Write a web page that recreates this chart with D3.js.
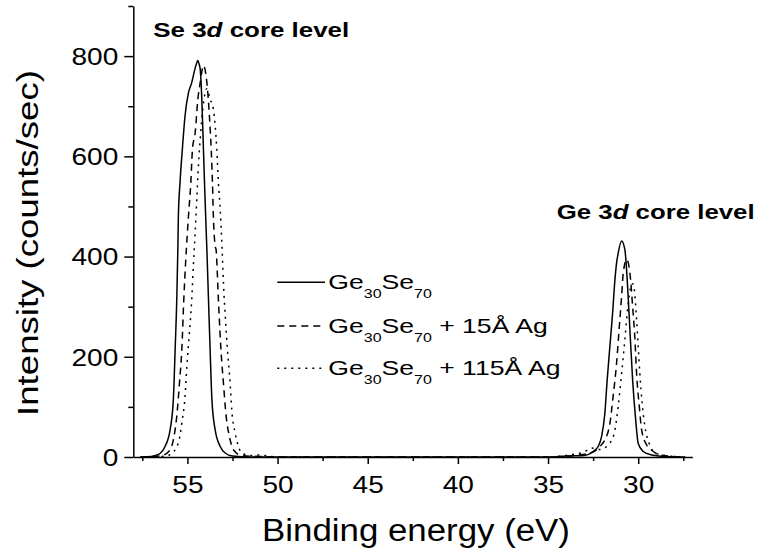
<!DOCTYPE html>
<html><head><meta charset="utf-8">
<script src="https://cdn.jsdelivr.net/npm/d3@7"></script>
<style>body{margin:0;background:#fff} svg{display:block} text{white-space:pre}</style>
</head><body><svg id="c" width="764" height="558"></svg>
<script>
// ---- data ----
const xTicks = [55, 50, 45, 40, 35, 30];
const xMinorTicks = [57.5, 52.5, 47.5, 42.5, 37.5, 32.5, 27.5];
const yTicks = [0, 200, 400, 600, 800];
const yMinorTicks = [100, 300, 500, 700, 900];
const legendSuffix = ["", " + 15Å Ag", " + 115Å Ag"];

// Ge30Se70 (solid)
const pureE = [57.6, 57.0, 56.79, 56.52, 56.24, 55.96, 55.78, 55.68, 55.59, 55.53, 55.50, 55.41, 55.28, 55.13, 54.94, 54.76, 54.67, 54.53, 54.42, 54.35, 54.29, 54.20, 54.11, 54.02, 53.92, 53.83, 53.74, 53.64, 53.46, 53.18, 52.91, 52.5, 51.5, 45, 40, 35, 34, 33, 32.5, 32.22, 32.03, 31.85, 31.72, 31.57, 31.42, 31.29, 31.2, 31.11, 30.92, 30.74, 30.61, 30.46, 30.31, 30.14, 30.0, 29.72, 29.35, 28.5, 27.4];
const pureI = [0, 1, 3, 7, 21, 54, 114, 214, 314, 414, 481, 547, 614, 681, 727, 747, 761, 781, 791, 784, 774, 714, 614, 514, 414, 314, 214, 114, 54, 21, 8, 2, 0, 0, 0, 0, 2, 3, 11, 21, 41, 87, 154, 221, 287, 354, 387, 407, 431, 414, 354, 254, 154, 74, 27, 11, 5, 1, 0];

// Ge30Se70 + 15Å Ag (dashed)
const ag15E = [57.6, 56.5, 55.96, 55.78, 55.59, 55.44, 55.31, 55.2, 55.09, 54.94, 54.81, 54.72, 54.57, 54.42, 54.29, 54.11, 53.92, 53.78, 53.68, 53.61, 53.56, 53.46, 53.41, 53.28, 53.14, 53.0, 52.85, 52.67, 52.44, 52.0, 51.0, 50, 45, 40, 35, 33.5, 32.5, 32.13, 31.85, 31.57, 31.39, 31.2, 31.06, 30.92, 30.83, 30.64, 30.46, 30.31, 30.18, 30.09, 29.94, 29.81, 29.53, 29.26, 28.8, 28.0, 27.4];
const ag15I = [0, 2, 14, 34, 81, 148, 214, 314, 394, 481, 547, 614, 647, 714, 747, 781, 747, 681, 614, 547, 481, 421, 414, 314, 214, 147, 81, 41, 14, 3, 1, 0, 0, 0, 0, 3, 10, 21, 34, 67, 121, 187, 254, 321, 367, 394, 367, 301, 234, 167, 101, 54, 24, 14, 4, 1, 0];

// Ge30Se70 + 115Å Ag (dotted)
const ag115E = [57.6, 56.5, 56.0, 55.5, 55.31, 55.13, 55.03, 54.89, 54.76, 54.67, 54.57, 54.48, 54.39, 54.29, 54.13, 53.92, 53.74, 53.56, 53.46, 53.37, 53.28, 53.18, 53.09, 53.0, 52.9, 52.78, 52.63, 52.54, 52.35, 52.17, 51.9, 51.5, 51.0, 50.5, 50, 45, 40, 35, 34, 33.5, 33, 32.59, 32.13, 31.57, 31.29, 31.11, 30.92, 30.74, 30.61, 30.5, 30.37, 30.27, 30.18, 30.09, 30.0, 29.91, 29.78, 29.63, 29.39, 29.07, 28.5, 27.4];
const ag115I = [0, 1, 4, 28, 68, 121, 181, 247, 314, 381, 448, 514, 581, 634, 700, 735, 714, 694, 661, 614, 547, 494, 428, 347, 281, 214, 147, 94, 48, 21, 6, 3, 4, 2, 0, 0, 0, 0, 3, 6, 10, 18, 15, 28, 54, 101, 167, 234, 288, 321, 345, 345, 321, 274, 221, 167, 107, 61, 27, 8, 3, 0];

// ---- drawing ----
const FONT = "Arial, 'Liberation Sans', sans-serif";
const svg = d3.select("#c");
const x = d3.scaleLinear().domain([58, 27]).range([133.3, 692.3]);
const y = d3.scaleLinear().domain([0, 900]).range([457, 6]);

const series = [
  {E: pureE, I: pureI, dash: null},
  {E: ag15E, I: ag15I, dash: "7,5"},
  {E: ag115E, I: ag115I, dash: "2,5"}
];
const line = d3.line().x(d => x(d[0])).y(d => y(d[1])).curve(d3.curveMonotoneX);
series.forEach(s => {
  svg.append("path").datum(d3.zip(s.E, s.I))
    .attr("d", line).attr("fill", "none").attr("stroke", "#000")
    .attr("stroke-width", 1.5).attr("stroke-dasharray", s.dash);
});

// axes
function styleAxis(g) {
  g.attr("font-family", FONT);
  g.selectAll("path,line").attr("stroke", "#000").attr("stroke-width", 1.5);
}
const gxMinor = svg.append("g").attr("transform", "translate(0,457)")
  .call(d3.axisBottom(x).tickValues(xMinorTicks).tickSize(4).tickSizeOuter(0).tickFormat(""));
gxMinor.select(".domain").remove();
styleAxis(gxMinor);
const gyMinor = svg.append("g").attr("transform", "translate(133.3,0)")
  .call(d3.axisLeft(y).tickValues(yMinorTicks).tickSize(5).tickSizeOuter(0).tickFormat(""));
gyMinor.select(".domain").remove();
styleAxis(gyMinor);

const gx = svg.append("g").attr("transform", "translate(0,457)")
  .call(d3.axisBottom(x).tickValues(xTicks).tickSize(7).tickSizeOuter(0).tickFormat(d3.format("d")));
styleAxis(gx);
gx.selectAll("text").attr("font-size", 23).attr("fill", "#000")
  .attr("y", 36.5).attr("dy", null).attr("transform", "scale(1.22,1)");

const gy = svg.append("g").attr("transform", "translate(133.3,0)")
  .call(d3.axisLeft(y).tickValues(yTicks).tickSize(9).tickSizeOuter(0).tickFormat(d3.format("d")));
styleAxis(gy);
gy.selectAll("text").attr("font-size", 23).attr("fill", "#000")
  .attr("x", -15 / 1.22).attr("dy", "0.36em").attr("transform", "scale(1.22,1)");

// helper: stretch text to a measured width
function fit(t, target, tf) {
  const w = t.node().getComputedTextLength();
  t.attr("transform", tf + ` scale(${target / w},1)`);
}

// axis titles
const xt = svg.append("text").attr("font-family", FONT).attr("font-size", 31)
  .attr("text-anchor", "middle").text("Binding energy (eV)");
fit(xt, 308, "translate(416,541)");
const yt = svg.append("text").attr("font-family", FONT).attr("font-size", 29)
  .attr("text-anchor", "middle").text("Intensity (counts/sec)");
fit(yt, 346, "translate(38,243) rotate(-90)");

// annotations
function annot(elem, x0, y0, target) {
  const t = svg.append("text").attr("font-family", FONT).attr("font-size", 20)
    .attr("font-weight", "bold");
  t.append("tspan").text(elem + " 3");
  t.append("tspan").attr("font-style", "italic").text("d");
  t.append("tspan").text(" core level");
  fit(t, target, `translate(${x0},${y0})`);
}
annot("Se", 153.3, 36.7, 196);
annot("Ge", 556.7, 219, 198);

// legend
const legRows = [282.3, 326, 368.3];
series.forEach((s, i) => {
  svg.append("line").attr("x1", 277.3).attr("x2", 325)
    .attr("y1", legRows[i]).attr("y2", legRows[i])
    .attr("stroke", "#000").attr("stroke-width", 1.5).attr("stroke-dasharray", s.dash);
  const t = svg.append("text").attr("font-family", FONT).attr("font-size", 20);
  t.append("tspan").text("Ge");
  t.append("tspan").attr("font-size", 12).attr("dy", 9).text("30");
  t.append("tspan").attr("dy", -9).text("Se");
  t.append("tspan").attr("font-size", 12).attr("dy", 9).text("70");
  t.append("tspan").attr("dy", -9).text(legendSuffix[i]);
  t.attr("transform", `translate(328.3,${legRows[i] + 7}) scale(1.33,1)`);
});
</script>
</body></html>
